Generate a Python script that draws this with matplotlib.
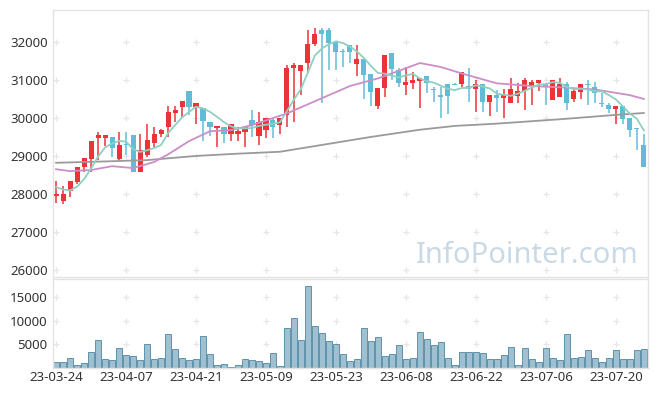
import matplotlib
matplotlib.use("Agg")
import matplotlib.pyplot as plt
import pandas as pd

# daily candles (Korean colours: red = up, blue = down)
opens = [27950, 27830, 28100, 28330, 28730, 28940, 29490, 29490, 29500, 28930,
         29310, 29560, 28600, 29030, 29340, 29600, 29780, 30150, 30305, 30720,
         30305, 30260, 29895, 29750, 29780, 29600, 29600, 29650, 29955, 29545,
         29690, 29955, 29830, 30090, 31315, 31250, 31450, 31945, 32320, 32320,
         32015, 31760, 31930, 31430, 31560, 31170, 30330, 30800, 31710, 31270,
         30885, 30940, 30990, 31110, 30770, 30610, 30900, 30900, 30895, 30850,
         30760, 30900, 30440, 30610, 30540, 30390, 30600, 30720, 30860, 30940,
         30900, 30490, 30550, 30900, 30500, 30700, 30900, 30815, 30400, 30350,
         30245, 30320, 30015, 29730, 29300]
highs = [28350, 28230, 28360, 28720, 28960, 29410, 29650, 29560, 29500, 29650,
         29650, 29560, 29600, 29840, 29770, 29720, 30320, 30320, 30460, 30720,
         30400, 30260, 29895, 29800, 29780, 29850, 29780, 29800, 30220, 30160,
         30000, 30000, 30000, 31400, 31450, 31400, 32320, 32370, 32370, 32370,
         32015, 31830, 31930, 31930, 31560, 31170, 30810, 31660, 31710, 31315,
         31360, 31210, 31050, 31110, 30830, 30830, 30900, 30920, 31220, 31315,
         31000, 30900, 30610, 30745, 30760, 31050, 30920, 31050, 31000, 31000,
         30920, 31000, 31050, 30960, 30790, 30900, 31000, 30960, 30660, 30410,
         30320, 30320, 30015, 29730, 29600]
lows = [27780, 27740, 27940, 28270, 28600, 28600, 28900, 29280, 28990, 28900,
        29030, 28600, 28600, 28980, 29250, 29520, 29520, 29890, 30000, 30090,
        29850, 29390, 29530, 29240, 29340, 29390, 29390, 29235, 29500, 29300,
        29475, 29475, 29600, 29760, 29890, 30610, 31180, 31900, 30390, 31270,
        31270, 31360, 31450, 31110, 30500, 30320, 30240, 30570, 31000, 30830,
        30610, 30765, 30260, 30660, 30440, 30000, 30110, 30870, 30830, 30440,
        30170, 30170, 30060, 30170, 30000, 30390, 30390, 30220, 30350, 30720,
        30350, 30480, 30550, 30220, 30440, 30500, 30350, 30410, 30300, 30150,
        29840, 29840, 29500, 29165, 28730]
closes = [28000, 28000, 28340, 28710, 28950, 29400, 29560, 29550, 29225, 29300,
          29290, 28600, 29160, 29440, 29600, 29680, 30160, 30220, 30455, 30305,
          30390, 29940, 29760, 29800, 29600, 29840, 29660, 29780, 29825, 29895,
          30000, 29760, 30000, 31315, 31400, 31400, 31955, 32210, 32210, 31990,
          31750, 31740, 31750, 31560, 31140, 30700, 30810, 31660, 31290, 30940,
          30955, 31000, 31050, 30940, 30750, 30550, 30590, 30880, 31220, 30760,
          30890, 30440, 30610, 30540, 30610, 30760, 30720, 31000, 30955, 31000,
          30815, 31000, 30900, 30390, 30720, 30900, 30880, 30660, 30380, 30245,
          30320, 29980, 29690, 29710, 28730]
# closes before the window, needed for the first 5-day average points
prev_closes = [28275, 28490, 28210, 27950]

volumes = [1300, 1300, 2200, 700, 1100, 3300, 5900, 1800, 1600, 4200,
           2800, 2600, 1600, 5000, 2000, 2200, 7100, 4000, 2200, 1600,
           2000, 6700, 2900, 700, 900, 200, 700, 2000, 1600, 1400,
           1000, 3100, 500, 8400, 10500, 5900, 17300, 8800, 7300, 5700,
           5000, 2900, 1400, 2000, 8400, 5700, 6500, 2500, 2900, 4800,
           2000, 2200, 7600, 6100, 4900, 5500, 2200, 700, 3300, 3300,
           3300, 3100, 1800, 2000, 2700, 4400, 700, 4200, 1800, 1200,
           4200, 2200, 1600, 7100, 2200, 2400, 3800, 2200, 1200, 2200,
           3800, 2000, 2000, 3800, 4000]

# 20 and 60 day averages at a few candles
ma20_idx = [0, 2, 5, 8, 11, 14, 16, 19, 22, 25, 28, 33, 38, 42, 46, 49, 52, 55, 58, 63, 68, 72, 77, 82, 84]
ma20_val = [28660, 28610, 28640, 28740, 28690, 28850, 29050, 29400, 29660, 29690, 29820, 30130,
            30530, 30850, 31050, 31250, 31455, 31350, 31180, 30920, 30850, 30815, 30760, 30610, 30510]
ma60_idx = [0, 6, 13, 20, 26, 32, 38, 45, 52, 57, 63, 72, 80, 84]
ma60_val = [28830, 28860, 28900, 29010, 29070, 29120, 29300, 29510, 29700, 29800, 29860, 29975, 30090, 30140]

tick_pos = [0, 10, 20, 30, 40, 50, 60, 70, 80]
tick_labels = ["23-03-24", "23-04-07", "23-04-21", "23-05-09", "23-05-23",
               "23-06-08", "23-06-22", "23-07-06", "23-07-20"]
price_ticks = [26000, 27000, 28000, 29000, 30000, 31000, 32000]
vol_ticks = [5000, 10000, 15000]

plt.rcParams['font.family'] = ['Noto Sans', 'DejaVu Sans']

UP = '#ee3338'
DOWN = '#62bcd8'

df = pd.DataFrame({'open': opens, 'high': highs, 'low': lows, 'close': closes, 'vol': volumes})
ma5 = pd.Series(prev_closes + closes).rolling(5).mean().iloc[len(prev_closes):].values
x = range(len(df))

fig = plt.figure(figsize=(6.57, 3.96), dpi=100)
ax = fig.add_axes([0.0811, 0.3005, 0.9052, 0.6742])
axv = fig.add_axes([0.0811, 0.0707, 0.9052, 0.2248], sharex=ax)

# grid as small plus marks
for a, yt in ((ax, price_ticks), (axv, vol_ticks)):
    gx = [p for p in tick_pos for _ in yt]
    gy = [v for _ in tick_pos for v in yt]
    a.scatter(gx, gy, marker='+', s=16, color='#e6e6e6', linewidths=0.9, zorder=0)

# candles
colors = [UP if c >= o else DOWN for o, c in zip(df['open'], df['close'])]
bottoms = df[['open', 'close']].min(axis=1)
heights = (df['close'] - df['open']).abs().clip(lower=25)
ax.vlines(x, df['low'], df['high'], colors=colors, linewidth=1.1, zorder=2)
ax.bar(x, heights, bottom=bottoms, width=0.72, color=colors, linewidth=0, zorder=3)

# moving averages
ax.plot(ma60_idx, ma60_val, color='#9a9a9a', linewidth=1.3, zorder=4)
ax.plot(ma20_idx, ma20_val, color='#cc8ec8', linewidth=1.3, zorder=4)
ax.plot(x, ma5, color='#8fd0c2', linewidth=1.3, zorder=4)

ax.text(0.985, 0.025, "InfoPointer.com", transform=ax.transAxes, ha='right', va='bottom',
        fontsize=21, color='#c9dae6', zorder=1)

ax.set_ylim(25824, 32850)
ax.set_xlim(-0.4, 84.6)
ax.set_yticks(price_ticks)
ax.set_yticklabels([str(v) for v in price_ticks])
ax.tick_params(axis='x', which='both', bottom=False, labelbottom=False)

# volume
axv.bar(x, df['vol'], width=0.92, color='#9ec0d0', edgecolor='#5f93ac', linewidth=0.7, zorder=2)
axv.set_ylim(0, 18800)
axv.set_yticks(vol_ticks)
axv.set_yticklabels([str(v) for v in vol_ticks])
axv.set_xticks(tick_pos)
axv.set_xticklabels(tick_labels)

for a in (ax, axv):
    a.tick_params(length=0, labelsize=9.5, colors='#333333', pad=4)
    for s in a.spines.values():
        s.set_color('#e3e3e3')
        s.set_linewidth(1)
axv.tick_params(axis='x', pad=2)

fig.savefig("out.png", dpi=100)
